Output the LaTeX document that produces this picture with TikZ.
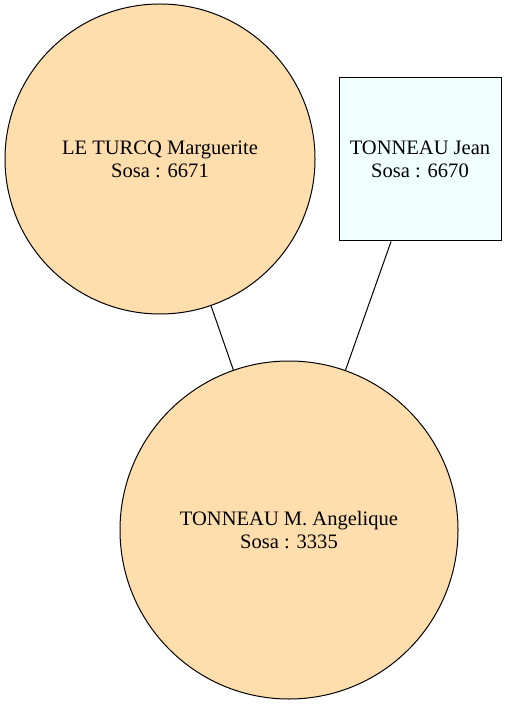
\documentclass[tikz,border=0pt]{standalone}
\usepackage{fontspec}
\setmainfont{Liberation Serif}
\definecolor{navajo}{HTML}{FFDEAD}
\definecolor{azurebox}{HTML}{F0FFFF}
\tikzset{
  person/.style={draw=black, line width=0.75pt, align=center, inner sep=0pt,
    font=\fontsize{15.4}{17.3}\selectfont},
  woman/.style={person, circle, fill=navajo},
  man/.style={person, rectangle, fill=azurebox},
  link/.style={draw=black, line width=0.75pt}
}
\begin{document}
\begin{tikzpicture}[x=0.75pt, y=-0.75pt]
  \useasboundingbox (0,0) rectangle (507,705);
  % parents
  \node[woman, minimum size=310*0.75pt] (marguerite) at (160,159)
    {LE TURCQ Marguerite\\Sosa : 6671};
  \node[man, minimum width=162*0.75pt, minimum height=163*0.75pt] (jean) at (420,159.5)
    {TONNEAU Jean\\Sosa : 6670};
  % child
  \node[woman, minimum size=338*0.75pt] (angelique) at (289,530)
    {TONNEAU M. Angelique\\Sosa : 3335};
  \draw[link] (marguerite) -- (angelique);
  \draw[link] (jean) -- (angelique);
\end{tikzpicture}
\end{document}
